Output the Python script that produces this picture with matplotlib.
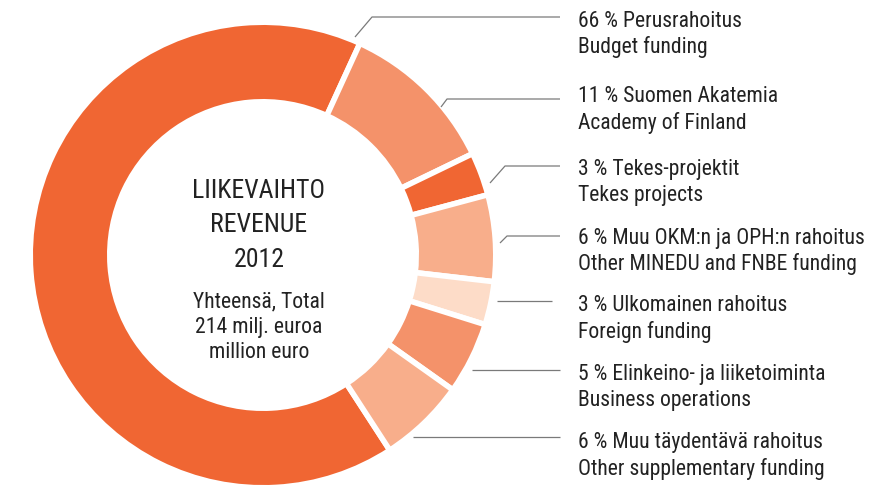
import matplotlib
matplotlib.use("Agg")
import matplotlib.pyplot as plt
from matplotlib import font_manager

# ---- data ----
values = [66, 11, 3, 6, 3, 5, 6]
labels_fi = ["66 % Perusrahoitus", "11 % Suomen Akatemia", "3 % Tekes-projektit",
             "6 % Muu OKM:n ja OPH:n rahoitus", "3 % Ulkomainen rahoitus",
             "5 % Elinkeino- ja liiketoiminta", "6 % Muu täydentävä rahoitus"]
labels_en = ["Budget funding", "Academy of Finland", "Tekes projects",
             "Other MINEDU and FNBE funding", "Foreign funding",
             "Business operations", "Other supplementary funding"]
center_title = ["LIIKEVAIHTO", "REVENUE", "2012"]
center_sub = ["Yhteensä, Total", "214 milj. euroa", "million euro"]

colors = ["#F06633", "#F4926A", "#F06633", "#F8AE8B", "#FDDCC8", "#F4926A", "#F8AE8B"]

# ---- font ----
ttf = font_manager.fontManager.ttflist
names = {f.name for f in ttf}
font = None
for cand in ["Liberation Sans Narrow", "Roboto Condensed", "Open Sans Condensed"]:
    if cand in names:
        font = cand
        break
if font is None:
    font = "Liberation Sans" if "Liberation Sans" in names else "DejaVu Sans"
weight = "normal"
plt.rcParams["font.family"] = [font, "DejaVu Sans"]

W, H = 876, 487
fig = plt.figure(figsize=(W / 100, H / 100), dpi=100)
ax = fig.add_axes([0, 0, 1, 1])

def Y(y):
    return H - y

cx, cy = 263, Y(255)
lw = 4.0
half = lw / 72 * 100 / 2
R_out = 230 + half
R_in = 156 - half

ax.pie(values, colors=colors, startangle=-57, counterclock=False,
       center=(cx, cy), radius=R_out, frame=True,
       wedgeprops=dict(width=R_out - R_in, edgecolor="white", linewidth=lw))

ax.set_xlim(0, W)
ax.set_ylim(0, H)
ax.set_aspect("equal")
ax.axis("off")

# center text
tc = "#222222"
for t, y in zip(center_title, [198, 232, 267]):
    ax.text(259, Y(y), t, ha="center", va="baseline", fontsize=18.5, color=tc,
            fontweight=weight)
for t, y in zip(center_sub, [307, 333, 358]):
    ax.text(259, Y(y), t, ha="center", va="baseline", fontsize=15.6, color=tc,
            fontweight=weight)

# labels
label_y = [(27, 53), (102, 129), (175, 201), (244, 270), (311, 338), (380, 406), (448, 475)]
for fi, en, (y1, y2) in zip(labels_fi, labels_en, label_y):
    ax.text(578, Y(y1), fi, ha="left", va="baseline", fontsize=15.6, color=tc,
            fontweight=weight)
    ax.text(578, Y(y2), en, ha="left", va="baseline", fontsize=15.6, color=tc,
            fontweight=weight)

# leader lines (layout)
leaders = [
    [(355, 37), (372, 17), (560, 17)],
    [(441, 107), (447, 99), (560, 99)],
    [(490, 183), (505, 166), (560, 166)],
    [(500, 243), (507, 236), (560, 236)],
    [(497, 301), (552, 301)],
    [(472, 370), (560, 370)],
    [(413, 437), (560, 437)],
]
for pts in leaders:
    xs = [p[0] for p in pts]
    ys = [Y(p[1]) for p in pts]
    ax.plot(xs, ys, color="#7a7a7a", lw=0.9, solid_capstyle="butt")

fig.savefig("out.png", dpi=100)
